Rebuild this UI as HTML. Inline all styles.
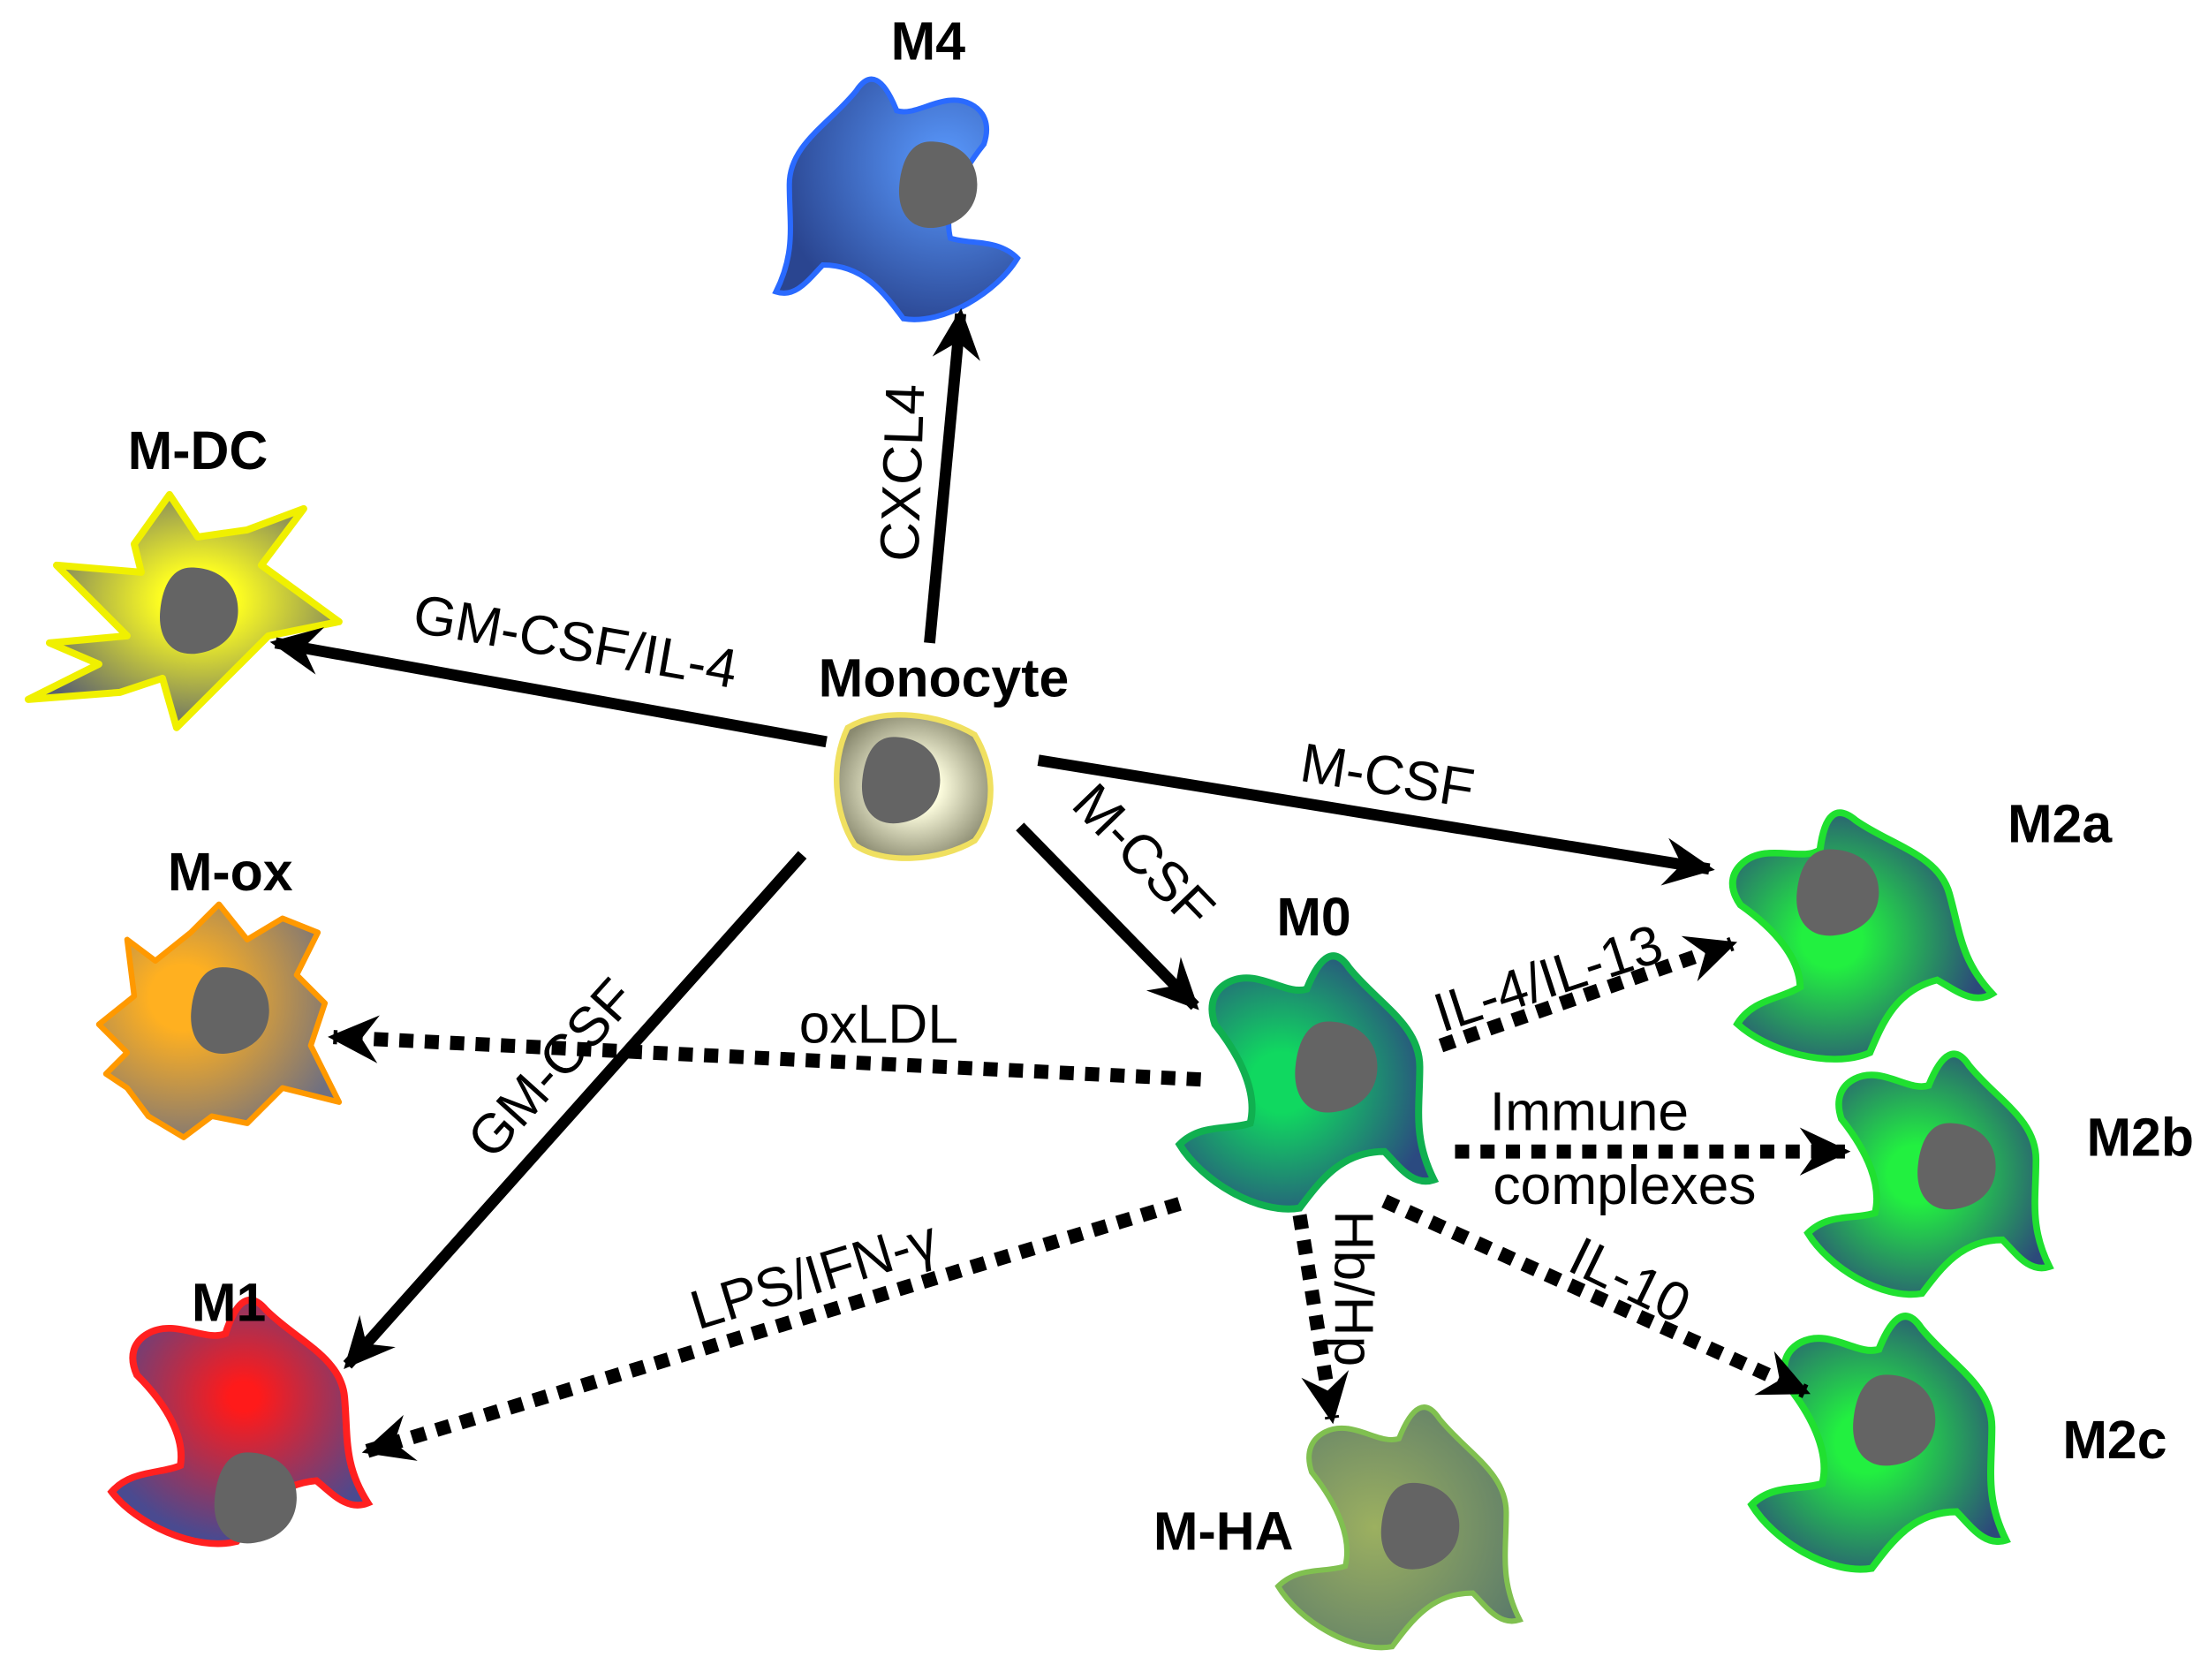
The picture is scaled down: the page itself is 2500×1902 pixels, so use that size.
<!DOCTYPE html>
<html><head><style>html,body{margin:0;padding:0;background:#fff}svg{display:block}</style></head>
<body>
<svg width="2500" height="1902" viewBox="0 0 1563 1189" xmlns="http://www.w3.org/2000/svg" font-family="Liberation Sans, Arial, sans-serif">
<defs>
<marker id="ah" markerUnits="userSpaceOnUse" markerWidth="50" markerHeight="50" refX="0" refY="0" viewBox="-40 -25 50 50" orient="auto" overflow="visible">
<path d="M4,0 L-32,-17 L-20,0 L-32,17 Z" fill="#000"/>
</marker>
<radialGradient id="gM0" cx="0.4" cy="0.5" r="0.6"><stop offset="0.2" stop-color="#10d860"/><stop offset="1" stop-color="#2b4a80"/></radialGradient>
<radialGradient id="gM2" cx="0.45" cy="0.5" r="0.6"><stop offset="0.2" stop-color="#22f040"/><stop offset="1" stop-color="#2c4a7a"/></radialGradient>
<radialGradient id="gM4" cx="0.3" cy="0.35" r="0.7"><stop offset="0" stop-color="#5a9aff"/><stop offset="1" stop-color="#2a4590"/></radialGradient>
<radialGradient id="gM1" cx="0.55" cy="0.4" r="0.6"><stop offset="0.1" stop-color="#ff1a1a"/><stop offset="1" stop-color="#4a4a90"/></radialGradient>
<radialGradient id="gHA" cx="0.4" cy="0.5" r="0.7"><stop offset="0" stop-color="#9cb060"/><stop offset="1" stop-color="#5a7a6a"/></radialGradient>
<radialGradient id="gDC" cx="0.55" cy="0.45" r="0.6"><stop offset="0.2" stop-color="#ffff20"/><stop offset="1" stop-color="#5a6070"/></radialGradient>
<radialGradient id="gOX" cx="0.35" cy="0.4" r="0.7"><stop offset="0.2" stop-color="#ffb020"/><stop offset="1" stop-color="#707080"/></radialGradient>
<radialGradient id="gMo" cx="0.5" cy="0.5" r="0.55"><stop offset="0.3" stop-color="#ffffe0"/><stop offset="1" stop-color="#8a8a70"/></radialGradient>
<path id="mac" d="M -60,-70 C -40,-80 -20,-60 -5,-65 C 5,-90 15,-95 25,-80 C 45,-55 75,-40 75,-10 C 75,20 70,40 85,70 C 70,75 60,60 50,50 C 20,50 5,70 -10,90 C -40,95 -80,70 -95,45 C -80,30 -60,35 -45,30 C -40,10 -50,-15 -70,-40 C -75,-55 -70,-65 -60,-70 Z"/>
<path id="nuc" d="M -5,-32 C 15,-32 30,-20 30,0 C 30,20 15,30 0,32 C -20,35 -30,20 -28,0 C -26,-20 -18,-32 -5,-32 Z" fill="#646464"/>
</defs>

<g transform="translate(630,140) scale(0.95)"><use href="#mac" fill="url(#gM4)" stroke="#2a6aff" stroke-width="4" transform="scale(-1,1)"/><use href="#nuc" transform="translate(35,-10)"/></g>
<g transform="translate(930,765)"><use href="#mac" fill="url(#gM0)" stroke="#10b050" stroke-width="5"/><use href="#nuc" transform="translate(15,-10)"/></g>
<g transform="translate(1310,660) scale(1,0.95)"><use href="#mac" fill="url(#gM2)" stroke="#20e030" stroke-width="5" transform="rotate(-15)"/><use href="#nuc" transform="translate(-10,-30)"/></g>
<g transform="translate(1370,830) scale(0.95)"><use href="#mac" fill="url(#gM2)" stroke="#20e030" stroke-width="5"/><use href="#nuc" transform="translate(15,-5)"/></g>
<g transform="translate(1335,1020)"><use href="#mac" fill="url(#gM2)" stroke="#20e030" stroke-width="5"/><use href="#nuc" transform="translate(5,-15)"/></g>
<g transform="translate(995,1080) scale(0.95)"><use href="#mac" fill="url(#gHA)" stroke="#80c050" stroke-width="4"/><use href="#nuc" transform="translate(10,0)"/></g>
<g transform="translate(170,1005)"><use href="#mac" fill="url(#gM1)" stroke="#ff2020" stroke-width="5" transform="rotate(-5) scale(1,0.95)"/><use href="#nuc" transform="translate(10,55)"/></g>
<g>
<path d="M95,385 L120,350 L140,380 L175,375 L215,360 L185,400 L240,440 L190,450 L170,470 L125,515 L115,480 L85,490 L20,495 L70,470 L35,455 L90,450 L60,420 L40,400 L100,405 Z" fill="url(#gDC)" stroke="#f0f000" stroke-width="5" stroke-linejoin="round"/>
<use href="#nuc" transform="translate(140,432) scale(0.95)"/>
</g>
<g>
<path d="M90,665 L110,680 L135,660 L155,640 L175,665 L200,650 L225,660 L210,690 L230,710 L220,740 L240,780 L200,770 L175,795 L150,790 L130,805 L105,790 L90,770 L75,760 L90,745 L70,725 L95,705 Z" fill="url(#gOX)" stroke="#ff9900" stroke-width="4" stroke-linejoin="round"/>
<use href="#nuc" transform="translate(162,715) scale(0.95)"/>
</g>
<g><path d="M600,515 C625,500 665,505 690,520 C705,545 705,575 690,595 C665,610 625,612 605,598 C590,575 588,540 600,515 Z" fill="url(#gMo)" stroke="#f0e060" stroke-width="4"/>
<use href="#nuc" transform="translate(637,552) scale(0.95)"/></g>

<g stroke="#000" stroke-width="8" fill="none">
<line x1="658" y1="455" x2="680" y2="222" marker-end="url(#ah)"/>
<line x1="585" y1="525" x2="195" y2="455" marker-end="url(#ah)"/>
<line x1="735" y1="538" x2="1210" y2="615" marker-end="url(#ah)"/>
<line x1="722" y1="585" x2="846" y2="712" marker-end="url(#ah)"/>
<line x1="568" y1="605" x2="246" y2="966" marker-end="url(#ah)"/>
</g>
<g stroke="#000" stroke-width="10" fill="none" stroke-dasharray="10 8">
<line x1="850" y1="764" x2="236" y2="734" marker-end="url(#ah)"/>
<line x1="835" y1="852" x2="260" y2="1027" marker-end="url(#ah)"/>
<line x1="1020" y1="740" x2="1226" y2="668" marker-end="url(#ah)"/>
<line x1="1030" y1="815" x2="1306" y2="815" marker-end="url(#ah)"/>
<line x1="980" y1="850" x2="1278" y2="985" marker-end="url(#ah)"/>
<line x1="920" y1="860" x2="943" y2="1004" marker-end="url(#ah)"/>
</g>

<g font-size="38" font-weight="bold" fill="#000" text-anchor="middle">
<text x="657" y="42">M4</text>
<text x="140" y="332">M-DC</text>
<text x="163" y="630">M-ox</text>
<text x="162" y="935">M1</text>
<text x="668" y="493">Monocyte</text>
<text x="930" y="662">M0</text>
<text x="1458" y="596">M2a</text>
<text x="1515" y="818">M2b</text>
<text x="1497" y="1032">M2c</text>
<text x="866" y="1097">M-HA</text>
</g>
<g font-size="39" fill="#000" text-anchor="middle">
<text transform="translate(652,335) rotate(-88)">CXCL4</text>
<text transform="translate(405,467) rotate(10)">GM-CSF/IL-4</text>
<text transform="translate(980,562) rotate(9)">M-CSF</text>
<text transform="translate(800,615) rotate(46)">M-CSF</text>
<text transform="translate(400,765) rotate(-48)">GM-CSF</text>
<text x="622" y="738">oxLDL</text>
<text transform="translate(580,915) rotate(-17)">LPS/IFN-γ</text>
<text transform="translate(1100,705) rotate(-18)">IL-4/IL-13</text>
<text x="1125" y="800">Immune</text>
<text x="1150" y="852">complexes</text>
<text transform="translate(1148,918) rotate(26)">IL-10</text>
<text transform="translate(945,912) rotate(90)">Hb/Hp</text>
</g>
</svg>
</body></html>
